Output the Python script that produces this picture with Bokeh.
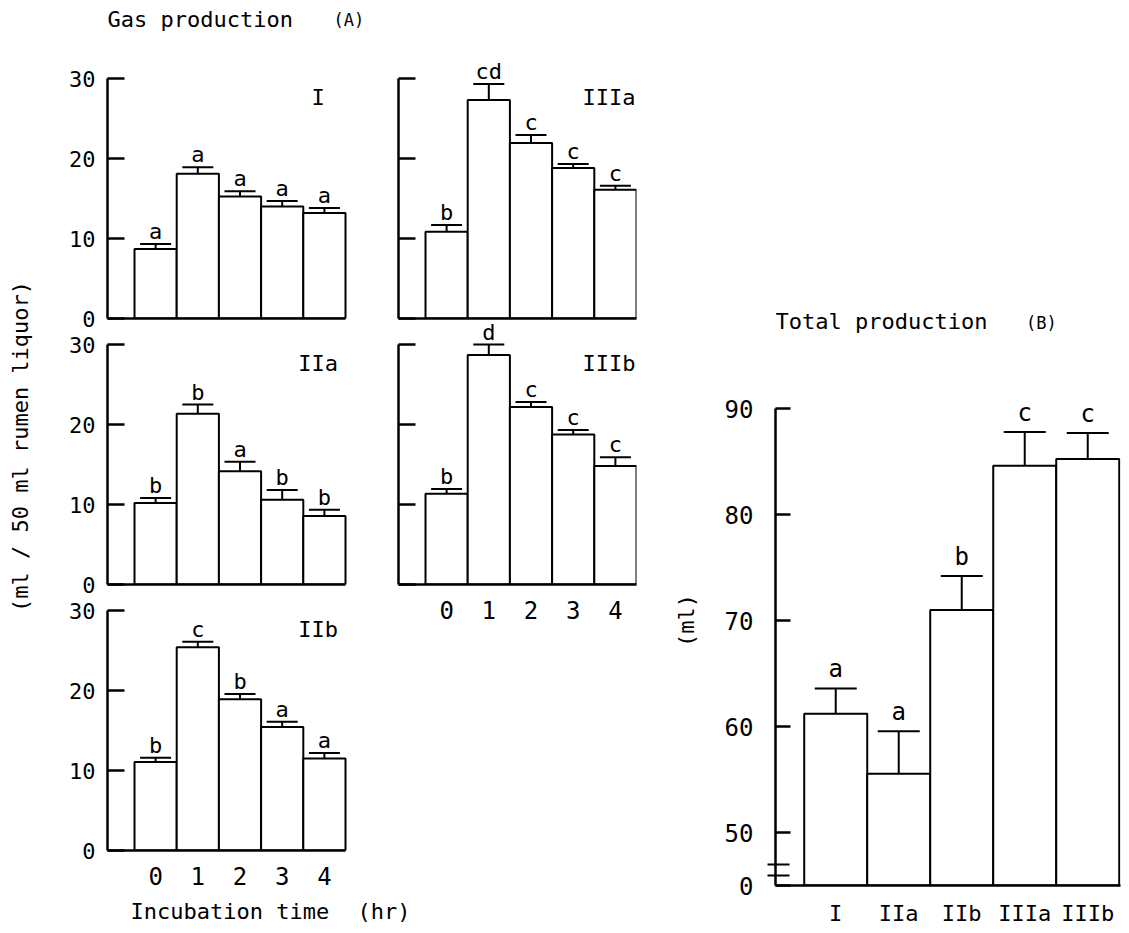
import math
from bokeh.plotting import figure
from bokeh.models import (Range1d, FixedTicker, ColumnDataSource, Whisker, TeeHead,
                          LabelSet, Label, Spacer)
from bokeh.layouts import row, column
from bokeh.embed import file_html
from bokeh.resources import INLINE
from bokeh.core.properties import value

FONT = "DejaVu Sans Mono"
FS = "22px"
FS_TICK = "24px"
FS_SIG = "22px"

# ---------------- data ----------------
hours = ["0", "1", "2", "3", "4"]

gas_I = [8.7, 18.1, 15.25, 14.0, 13.2]
err_I = [0.6, 0.8, 0.65, 0.7, 0.6]
sig_I = ["a", "a", "a", "a", "a"]

gas_IIa = [10.2, 21.35, 14.15, 10.6, 8.55]
err_IIa = [0.6, 1.15, 1.2, 1.2, 0.8]
sig_IIa = ["b", "b", "a", "b", "b"]

gas_IIb = [11.05, 25.4, 18.9, 15.45, 11.5]
err_IIb = [0.55, 0.7, 0.65, 0.65, 0.7]
sig_IIb = ["b", "c", "b", "a", "a"]

gas_IIIa = [10.85, 27.3, 21.95, 18.8, 16.1]
err_IIIa = [0.85, 2.0, 1.0, 0.5, 0.5]
sig_IIIa = ["b", "cd", "c", "c", "c"]

gas_IIIb = [11.35, 28.7, 22.2, 18.75, 14.8]
err_IIIb = [0.6, 1.3, 0.6, 0.55, 1.1]
sig_IIIb = ["b", "d", "c", "c", "c"]

gas_ticks = [0, 10, 20, 30]

groups = ["I", "IIa", "IIb", "IIIa", "IIIb"]
total = [61.2, 55.55, 71.0, 84.6, 85.25]
total_err = [2.4, 4.0, 3.2, 3.2, 2.45]
total_sig = ["a", "a", "b", "c", "c"]
total_ticks = [45, 50, 60, 70, 80, 90]
total_tick_labels = ["0", "50", "60", "70", "80", "90"]
total_break = [45.95, 47.0]

# ---------------- helpers ----------------
XA0, XA1 = -1.14, 4.5
PX_X = 238 / (XA1 - XA0)   # px per x unit in panels A
PX_Y = 8.0                 # px per ml in panels A
XA_LEFT = XA0 + 263 / PX_X  # wider frame for the left column


def style_common(p):
    p.xgrid.visible = False
    p.ygrid.visible = False
    p.outline_line_color = None
    p.background_fill_color = "white"
    p.border_fill_color = "white"


def text_fig(w, h, left=0, right=0, top=0, bottom=0):
    f = figure(width=w, height=h, x_range=Range1d(0, 1), y_range=Range1d(0, 1),
               output_backend="svg", toolbar_location=None,
               x_axis_location=None, y_axis_location=None,
               min_border_left=left, min_border_right=right, min_border_top=top,
               min_border_bottom=bottom)
    style_common(f)
    return f


def txt(x, y, s, size=FS, align="left", angle=0.0):
    return Label(x=x, y=y, text=s, text_align=align, text_baseline="middle",
                 text_font=FONT, text_font_size=size, text_color="black", angle=angle)


def gas_panel(name, vals, errs, sigs, ylabels, xlabels, top, bottom, left, right,
              y_end=30.0, x_end=XA1):
    fw = int(round((x_end - XA0) * PX_X))
    fh = int(round(y_end * PX_Y))
    p = figure(width=left + fw + right, height=top + fh + bottom,
               x_range=Range1d(XA0, x_end), y_range=Range1d(0, y_end),
               output_backend="svg", toolbar_location=None,
               min_border_left=left, min_border_right=right,
               min_border_top=top, min_border_bottom=bottom)
    style_common(p)
    x = list(range(len(vals)))
    src = ColumnDataSource(dict(x=x, top=vals,
                                up=[v + e for v, e in zip(vals, errs)],
                                sig=sigs))
    p.vbar(x="x", top="top", bottom=0, width=1.0, source=src,
           fill_color="white", line_color="black", line_width=2)
    p.add_layout(Whisker(source=src, base="x", lower="top", upper="up",
                         dimension="height", line_width=2, line_color="black",
                         lower_head=None,
                         upper_head=TeeHead(size=31, line_width=2, line_color="black")))
    p.add_layout(LabelSet(source=src, x="x", y="up", text="sig",
                          text_align="center", text_baseline="alphabetic",
                          y_offset=5, text_font=value(FONT), text_font_size=value(FS_SIG),
                          text_color="black"))
    p.add_layout(txt(3.85, 27.6, name, align="center"))
    ya = p.yaxis[0]
    ya.ticker = FixedTicker(ticks=gas_ticks)
    ya.bounds = (0, 30)
    ya.major_tick_in = 17
    ya.major_tick_out = 0
    ya.minor_tick_line_color = None
    ya.axis_line_width = 2.5
    ya.major_tick_line_width = 2.5
    ya.major_label_standoff = 12
    ya.major_label_text_font = FONT
    ya.major_label_text_font_size = FS
    ya.major_label_text_color = "black"
    if not ylabels:
        ya.major_label_overrides = {t: "" for t in gas_ticks}
    xa = p.xaxis[0]
    xa.bounds = (XA0, XA1)
    xa.axis_line_width = 2.5
    xa.minor_tick_line_color = None
    xa.major_tick_in = 0
    xa.major_tick_out = 0
    if xlabels:
        xa.ticker = FixedTicker(ticks=x)
        xa.major_label_overrides = {i: h for i, h in enumerate(hours)}
        xa.major_label_standoff = 16
        xa.major_label_text_font = FONT
        xa.major_label_text_font_size = FS_TICK
        xa.major_label_text_color = "black"
    else:
        xa.ticker = FixedTicker(ticks=[])
    return p


# ---------------- left column (I, IIa, IIb) ----------------
pI = gas_panel("I", gas_I, err_I, sig_I, True, False, 0, 13, 59, 0,
               y_end=39.75, x_end=XA_LEFT)
pI.add_layout(txt(XA0, 37.4, "Gas production"))
pI.add_layout(txt(XA0 + (333 - 107) / PX_X, 37.3, "(A)", size="17px"))
pIIa = gas_panel("IIa", gas_IIa, err_IIa, sig_IIa, True, False, 13, 13, 59, 0,
                 x_end=XA_LEFT)
pIIb = gas_panel("IIb", gas_IIb, err_IIb, sig_IIb, True, True, 13, 46, 59, 0,
                 x_end=XA_LEFT)

# ---------------- middle column (IIIa, IIIb) ----------------
pIIIa = gas_panel("IIIa", gas_IIIa, err_IIIa, sig_IIIa, False, False, 54, 2, 28, 24,
                  y_end=33.0)
pIIIb = gas_panel("IIIb", gas_IIIb, err_IIIb, sig_IIIb, False, True, 0, 48, 28, 24,
                  y_end=33.0)

# x title under panels A (spans both columns)
t_inc = text_fig(612, 37)
t_inc.add_layout(txt((130 - 48) / 612, 0.6, "Incubation time"))
t_inc.add_layout(txt((357 - 48) / 612, 0.6, "(hr)"))

left_h = 331 + 266 + 299
mid_h = 320 + 312

# ---------------- y title strip ----------------
ps = text_fig(48, 933)
ps.add_layout(txt(20 / 48, 0.522, "(ml / 50 ml rumen liquor)", align="center",
                  angle=math.pi / 2))

# ---------------- panel B ----------------
B_TOP, B_BOTTOM = 300, 48
t_ml = text_fig(55, 933, top=B_TOP, bottom=B_BOTTOM)
t_ml.add_layout(txt(0.47, (885 - 620) / 585, "(ml)", align="center", angle=math.pi / 2))

XB0, XB1 = -0.956, 4.52
pB = figure(width=414, height=933, x_range=Range1d(XB0, XB1), y_range=Range1d(45, 100.2),
            output_backend="svg", toolbar_location=None,
            min_border_left=60, min_border_right=9, min_border_top=B_TOP,
            min_border_bottom=B_BOTTOM)
style_common(pB)
xb = list(range(len(groups)))
srcB = ColumnDataSource(dict(x=xb, top=total,
                             up=[v + e for v, e in zip(total, total_err)],
                             sig=total_sig))
pB.vbar(x="x", top="top", bottom=45, width=1.0, source=srcB,
        fill_color="white", line_color="black", line_width=2)
pB.add_layout(Whisker(source=srcB, base="x", lower="top", upper="up",
                      dimension="height", line_width=2, line_color="black",
                      lower_head=None,
                      upper_head=TeeHead(size=42, line_width=2, line_color="black")))
pB.add_layout(LabelSet(source=srcB, x="x", y="up", text="sig",
                       text_align="center", text_baseline="alphabetic",
                       y_offset=11, text_font=value(FONT), text_font_size=value("24px"),
                       text_color="black"))
pB.add_layout(txt(XB0, 98.2, "Total production"))
pB.add_layout(txt(3.02, 98.1, "(B)", size="17px"))
ya = pB.yaxis[0]
ya.ticker = FixedTicker(ticks=total_ticks, minor_ticks=total_break)
ya.major_label_overrides = {t: l for t, l in zip(total_ticks, total_tick_labels)}
ya.bounds = (45, 90)
ya.major_tick_in = 15
ya.major_tick_out = 0
ya.minor_tick_in = 14
ya.minor_tick_out = 8
ya.minor_tick_line_width = 2
ya.minor_tick_line_color = "black"
ya.axis_line_width = 2.5
ya.major_tick_line_width = 2.5
ya.major_label_standoff = 14
ya.major_label_text_font = FONT
ya.major_label_text_font_size = FS_TICK
ya.major_label_text_color = "black"
xa = pB.xaxis[0]
xa.ticker = FixedTicker(ticks=xb)
xa.major_label_overrides = {i: g for i, g in enumerate(groups)}
xa.axis_line_width = 2.5
xa.minor_tick_line_color = None
xa.major_tick_in = 0
xa.major_tick_out = 0
xa.major_label_standoff = 15
xa.major_label_text_font = FONT
xa.major_label_text_font_size = FS
xa.major_label_text_color = "black"

panels_A = column(
    row(column(pI, pIIa, pIIb),
        column(pIIIa, pIIIb, Spacer(width=290, height=left_h - mid_h))),
    column(t_inc))

layout = row(column(ps), panels_A, row(t_ml, pB))

open("out.html", "w").write(file_html(layout, INLINE))
